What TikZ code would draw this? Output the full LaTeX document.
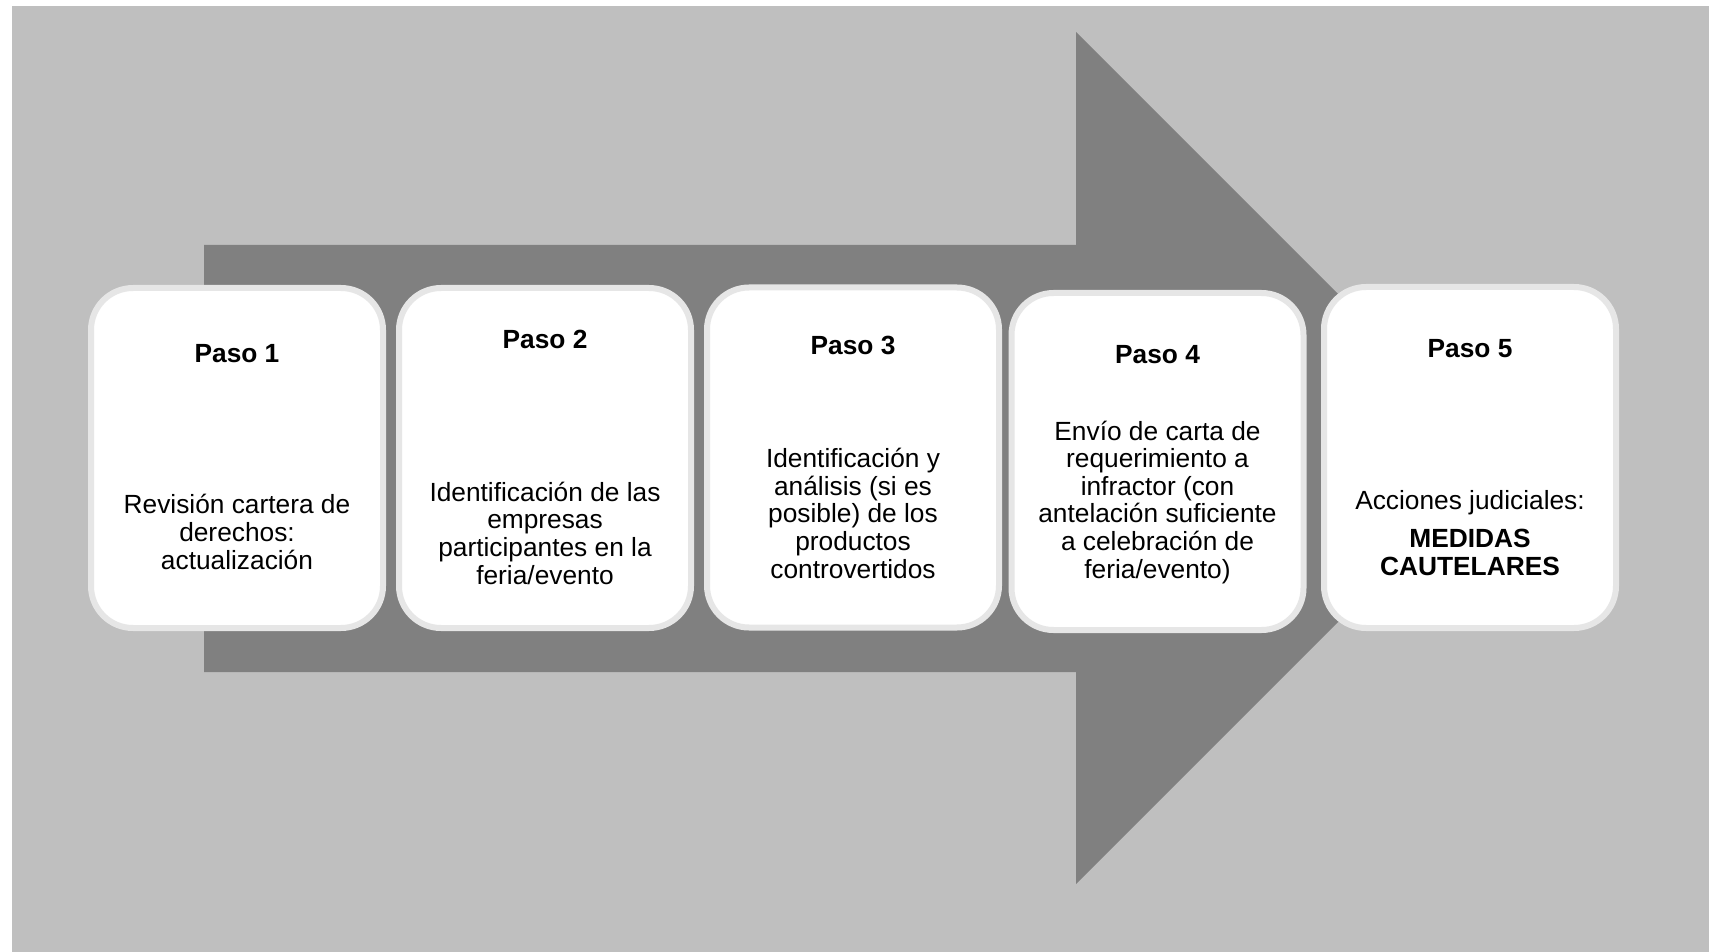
\documentclass[tikz,border=0pt]{standalone}
\usepackage{fontspec}
\setmainfont{Liberation Sans}
\definecolor{bggray}{HTML}{BFBFBF}
\definecolor{arrowgray}{HTML}{808080}
\definecolor{boxedge}{HTML}{E6E6E6}
\tikzset{
  stepbox/.style={draw=boxedge, line width=6pt, fill=white, rounded corners=42pt,
    minimum width=292pt, minimum height=340pt, inner sep=0pt},
  steptitle/.style={anchor=base, inner sep=0pt, font=\fontsize{26.3}{27.6}\selectfont\bfseries},
  steptext/.style={anchor=base, inner sep=0pt, align=center, font=\fontsize{26.3}{27.6}\selectfont}
}
\begin{document}
\begin{tikzpicture}[x=1pt,y=-1pt]
\useasboundingbox (0,0) rectangle (1709,952);
\fill[white] (0,0) rectangle (1709,952);
\fill[bggray] (12,6) rectangle (1709,952);
\fill[arrowgray] (204,245) -- (1076,245) -- (1076,32) -- (1502,458) -- (1076,884) -- (1076,672) -- (204,672) -- cycle;

\node[stepbox] (s1) at (237,458) {};
\node[stepbox] (s2) at (545,458) {};
\node[stepbox] (s3) at (853,457.5) {};
\node[stepbox, minimum height=337pt] (s4) at (1157.5,461.5) {};
\node[stepbox, minimum height=341pt] (s5) at (1470,457.5) {};

\node[steptitle] (t1) at (237,362) {Paso 1};
\node[steptitle] (t2) at (545,348) {Paso 2};
\node[steptitle] (t3) at (853,354) {Paso 3};
\node[steptitle] (t4) at (1157.5,363) {Paso 4};
\node[steptitle] (t5) at (1470,357) {Paso 5};

% anchored at the baseline of the last line
\node[steptext] (d1) at (237,569) {Revisión cartera de\\derechos:\\actualización};
\node[steptext] (d2) at (545,584) {Identificación de las\\empresas\\participantes en la\\feria/evento};
\node[steptext] (d3) at (853,578) {Identificación y\\análisis (si es\\posible) de los\\productos\\controvertidos};
\node[steptext] (d4) at (1157.5,578) {Envío de carta de\\requerimiento a\\infractor (con\\antelación suficiente\\a celebración de\\feria/evento)};
\node[steptext] (d5) at (1470,575) {Acciones judiciales:\\[10.4pt]\textbf{MEDIDAS}\\\textbf{CAUTELARES}};
\end{tikzpicture}
\end{document}
